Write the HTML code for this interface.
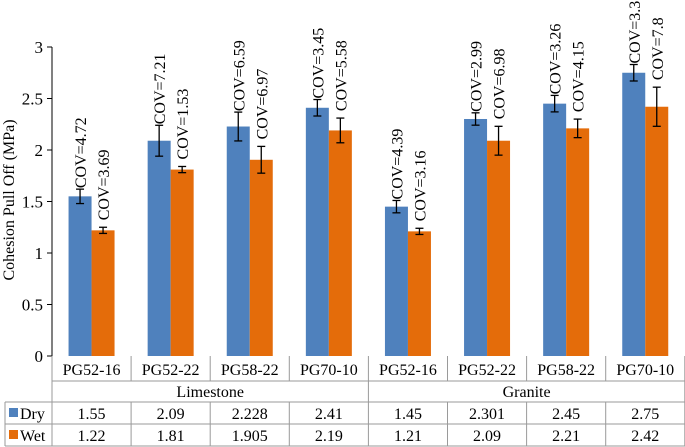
<!DOCTYPE html>
<html><head><meta charset="utf-8">
<style>
html,body{margin:0;padding:0;background:#fff;font-family:"Liberation Serif","DejaVu Serif",serif;}
svg{display:block;}
svg text{font-family:"Liberation Serif","DejaVu Serif",serif;}
</style></head>
<body>
<svg id="chart" width="685" height="447" viewBox="0 0 685 447" xmlns="http://www.w3.org/2000/svg">
<g id="axes"></g>
<g id="bars"></g>
<g id="table"></g>
<text transform="translate(14,200) rotate(-90)" text-anchor="middle" font-size="16">Cohesion Pull Off (MPa)</text>
</svg>
<script>
const categories = ["PG52-16","PG52-22","PG58-22","PG70-10","PG52-16","PG52-22","PG58-22","PG70-10"];
const groups = ["Limestone","Granite"];
const dryValues = [1.55,2.09,2.228,2.41,1.45,2.301,2.45,2.75];
const wetValues = [1.22,1.81,1.905,2.19,1.21,2.09,2.21,2.42];
const dryErr = [0.07,0.15,0.14,0.08,0.06,0.06,0.08,0.08];
const wetErr = [0.03,0.03,0.13,0.12,0.03,0.14,0.09,0.19];
const dryCov = ["4.72","7.21","6.59","3.45","4.39","2.99","3.26","3.3"];
const wetCov = ["3.69","1.53","6.97","5.58","3.16","6.98","4.15","7.8"];
const dryLabels = ["1.55","2.09","2.228","2.41","1.45","2.301","2.45","2.75"];
const wetLabels = ["1.22","1.81","1.905","2.19","1.21","2.09","2.21","2.42"];
const yTicks = [0,0.5,1,1.5,2,2.5,3];
const yTickLabels = ["0","0.5","1","1.5","2","2.5","3"];

const NS="http://www.w3.org/2000/svg";
const X0=52, CW=79.1, Y0=356, PPU=103, BW=23;
const BLUE="#4f81bd", ORANGE="#e46c0a";
function y(v){return Y0 - v*PPU;}
function cx(i){return X0 + CW*(i+0.5);}
function mk(parent,tag,attrs,text){const e=document.createElementNS(NS,tag);for(const k in attrs)e.setAttribute(k,attrs[k]);if(text!==undefined)e.textContent=text;parent.appendChild(e);return e;}

const axes=document.getElementById('axes');
let ax=mk(axes,'line',{x1:X0,y1:y(3),x2:X0,y2:Y0,stroke:'#000','stroke-width':1});


yTicks.forEach((t,i)=>{
  let tk=mk(axes,'line',{x1:X0-5,y1:y(t),x2:X0,y2:y(t),stroke:'#000'});
  
  
  let tl=mk(axes,'text',{x:X0-9,y:y(t)+6,'text-anchor':'end','font-size':17},yTickLabels[i]);
  
  
});

const bars=document.getElementById('bars');
function drawSeries(vals,errs,covs,color,off,name){
  vals.forEach((v,i)=>{
    const c=cx(i)+off;
    let r=mk(bars,'rect',{x:c-BW/2,y:y(v),width:BW,height:Y0-y(v),fill:color});
    
    
    const e=errs[i];
    let g=mk(bars,'g',{stroke:'#000','stroke-width':1.3});
    
    
    mk(g,'line',{x1:c,y1:y(v+e),x2:c,y2:y(v-e)});
    mk(g,'line',{x1:c-4,y1:y(v+e),x2:c+4,y2:y(v+e)});
    mk(g,'line',{x1:c-4,y1:y(v-e),x2:c+4,y2:y(v-e)});
    const ty=y(v+e)-(name==='dry'?1:7);
    let t=mk(bars,'text',{transform:`translate(${c+6},${ty}) rotate(-90)`,'font-size':16},"COV="+covs[i]);
    
    
  });
}
drawSeries(dryValues,dryErr,dryCov,BLUE,-BW/2,'dry');
drawSeries(wetValues,wetErr,wetCov,ORANGE,BW/2,'wet');

const tb=document.getElementById('table');
const L=5, R=685, rows=[356,381,402,424,446];
const st={stroke:'#9a9a9a','stroke-width':1};
mk(tb,'line',Object.assign({x1:X0,y1:rows[1],x2:R,y2:rows[1]},st));
mk(tb,'line',Object.assign({x1:L,y1:rows[2],x2:R,y2:rows[2]},st));
mk(tb,'line',Object.assign({x1:L,y1:rows[3],x2:R,y2:rows[3]},st));
mk(tb,'line',Object.assign({x1:L,y1:rows[4],x2:R,y2:rows[4]},st));
mk(tb,'line',Object.assign({x1:L,y1:rows[2],x2:L,y2:rows[4]},st));
for(let i=0;i<=categories.length;i++){
  const x=X0+CW*i;
  if(i===0||i===4||i===8) mk(tb,'line',Object.assign({x1:x,y1:rows[0],x2:x,y2:rows[4]},st));
  else { mk(tb,'line',Object.assign({x1:x,y1:rows[0],x2:x,y2:rows[1]},st)); mk(tb,'line',Object.assign({x1:x,y1:rows[2],x2:x,y2:rows[4]},st)); }
}
categories.forEach((c,i)=>{
  let t=mk(tb,'text',{x:cx(i),y:rows[0]+19,'text-anchor':'middle','font-size':16},c);
  
  
  let d=mk(tb,'text',{x:cx(i),y:rows[2]+17,'text-anchor':'middle','font-size':16},dryLabels[i]);
  
  
  let w=mk(tb,'text',{x:cx(i),y:rows[3]+17,'text-anchor':'middle','font-size':16},wetLabels[i]);
  
  
});
groups.forEach((g,i)=>{
  let t=mk(tb,'text',{x:X0+CW*(4*i+2),y:rows[1]+16,'text-anchor':'middle','font-size':16},g);
  
  
});
let k1=mk(tb,'rect',{x:9,y:rows[2]+6,width:9,height:9,fill:BLUE});


let l1=mk(tb,'text',{x:20,y:rows[2]+17,'font-size':16},"Dry");


let k2=mk(tb,'rect',{x:9,y:rows[3]+6,width:9,height:9,fill:ORANGE});


let l2=mk(tb,'text',{x:20,y:rows[3]+17,'font-size':16},"Wet");


</script>
</body></html>
